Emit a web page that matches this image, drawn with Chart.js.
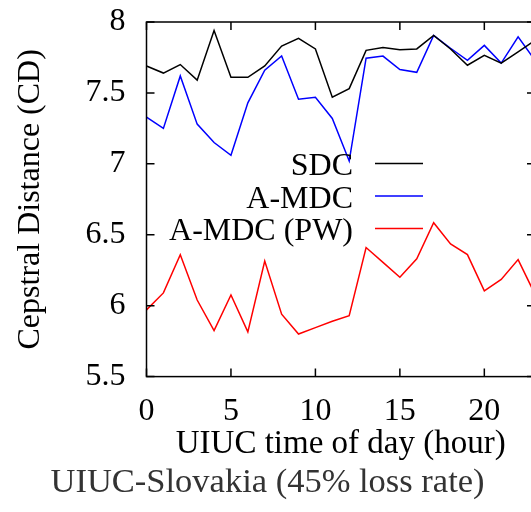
<!DOCTYPE html>
<html>
<head>
<meta charset="utf-8">
<script src="https://cdn.jsdelivr.net/npm/chart.js@4/dist/chart.umd.min.js"></script>
<style>
  html, body { margin: 0; padding: 0; background: #fff; overflow: hidden; }
  #wrap { width: 531px; height: 512px; overflow: hidden; }
</style>
</head>
<body>
<div id="wrap"><canvas id="myChart" width="540" height="512"></canvas></div>
<script>
const horas = [0, 1, 2, 3, 4, 5, 6, 7, 8, 9, 10, 11, 12, 13, 14, 15, 16, 17, 18, 19, 20, 21, 22, 23];
const sdc = [7.69, 7.64, 7.70, 7.59, 7.94, 7.61, 7.61, 7.69, 7.83, 7.885, 7.81, 7.47, 7.53, 7.80, 7.82, 7.805, 7.81, 7.905, 7.81, 7.695, 7.765, 7.71, 7.79, 7.87];
const amdc = [7.33, 7.25, 7.62, 7.28, 7.15, 7.06, 7.43, 7.66, 7.76, 7.455, 7.47, 7.32, 7.02, 7.745, 7.76, 7.665, 7.645, 7.905, 7.815, 7.73, 7.835, 7.71, 7.895, 7.73];
const amdcPw = [5.97, 6.09, 6.36, 6.04, 5.825, 6.075, 5.815, 6.315, 5.94, 5.80, 5.845, 5.89, 5.93, 6.41, 6.305, 6.20, 6.33, 6.585, 6.435, 6.36, 6.105, 6.185, 6.325, 6.08];
const ticksX = [0, 5, 10, 15, 20];
const ticksY = [5.5, 6, 6.5, 7, 7.5, 8];
const rotulos = ['SDC', 'A-MDC', 'A-MDC (PW)'];
const cores = ['#000000', '#0000ff', '#ff0000'];

const fonte = 'Liberation Serif, Times New Roman, serif';

function pontos(valores) {
	return horas.map((h, i) => ({ x: h, y: valores[i] }));
}

// moldura com marcas de escala para dentro, estilo gnuplot
const moldura = {
	id: 'moldura',
	afterDatasetsDraw(chart) {
		const ctx = chart.ctx;
		const a = chart.chartArea;
		const tam = 8;
		ctx.save();
		ctx.strokeStyle = '#000';
		ctx.lineWidth = 1.5;
		ctx.strokeRect(a.left, a.top, a.right - a.left, a.bottom - a.top);
		ctx.beginPath();
		chart.scales.x.ticks.forEach(t => {
			const px = chart.scales.x.getPixelForValue(t.value);
			ctx.moveTo(px, a.bottom); ctx.lineTo(px, a.bottom - tam);
			ctx.moveTo(px, a.top); ctx.lineTo(px, a.top + tam);
		});
		chart.scales.y.ticks.forEach(t => {
			const py = chart.scales.y.getPixelForValue(t.value);
			ctx.moveTo(a.left, py); ctx.lineTo(a.left + tam, py);
			ctx.moveTo(a.right, py); ctx.lineTo(a.right - tam, py);
		});
		ctx.stroke();
		ctx.restore();
	}
};

// legenda dentro do grafico: texto alinhado a direita e amostra da linha
const legenda = {
	id: 'legenda',
	afterDatasetsDraw(chart) {
		const ctx = chart.ctx;
		const linhas = [175, 207.5, 240];
		ctx.save();
		ctx.font = '32px ' + fonte;
		ctx.textAlign = 'right';
		ctx.textBaseline = 'alphabetic';
		chart.data.datasets.forEach((ds, i) => {
			ctx.fillStyle = '#000';
			ctx.fillText(ds.label, 353, linhas[i]);
			ctx.strokeStyle = ds.borderColor;
			ctx.lineWidth = 1.5;
			ctx.beginPath();
			ctx.moveTo(375, linhas[i] - 11.5);
			ctx.lineTo(423, linhas[i] - 11.5);
			ctx.stroke();
		});
		ctx.restore();
	}
};

const data = {
	datasets: [sdc, amdc, amdcPw].map((serie, i) => ({
		label: rotulos[i],
		data: pontos(serie),
		borderColor: cores[i],
		backgroundColor: cores[i],
		borderWidth: 1.5,
		pointRadius: 0,
		tension: 0,
		fill: false
	}))
};

const config = {
	type: 'line',
	data: data,
	options: {
		responsive: false,
		animation: false,
		devicePixelRatio: 1,
		layout: { padding: { top: 22, right: 5, left: 0, bottom: 0 } },
		plugins: {
			legend: { display: false },
			tooltip: { enabled: false },
			title: {
				display: true,
				position: 'bottom',
				text: 'UIUC-Slovakia (45% loss rate)',
				color: '#333',
				font: { family: fonte, size: 34.5, weight: 'normal' },
				padding: { top: 1, bottom: 8 }
			}
		},
		scales: {
			x: {
				type: 'linear',
				min: 0,
				max: 23,
				grid: { display: false, drawTicks: false },
				border: { display: false },
				ticks: { color: '#000', padding: 16, maxRotation: 0, autoSkip: false, font: { family: fonte, size: 32 } },
				afterBuildTicks(scale) { scale.ticks = ticksX.map(v => ({ value: v })); },
				title: {
					display: true,
					text: 'UIUC time of day (hour)',
					color: '#000',
					font: { family: fonte, size: 33 },
					padding: { top: 0, bottom: -3 }
				},
				afterFit(scale) {
					scale.height = 85;
					scale.paddingLeft = 0;
					scale.paddingRight = 0;
				}
			},
			y: {
				min: 5.5,
				max: 8,
				grid: { display: false, drawTicks: false },
				border: { display: false },
				ticks: { color: '#000', padding: 21, font: { family: fonte, size: 32 }, callback: v => String(v) },
				afterBuildTicks(scale) { scale.ticks = ticksY.map(v => ({ value: v })); },
				title: {
					display: true,
					text: 'Cepstral Distance (CD)',
					color: '#000',
					font: { family: fonte, size: 32 },
					padding: { top: 11, bottom: 0 }
				},
				afterFit(scale) {
					scale.width = 146.5;
					scale.paddingTop = 0;
					scale.paddingBottom = 0;
				}
			}
		}
	},
	plugins: [moldura, legenda]
};

const myChart = new Chart(document.getElementById('myChart'), config);
</script>
</body>
</html>
